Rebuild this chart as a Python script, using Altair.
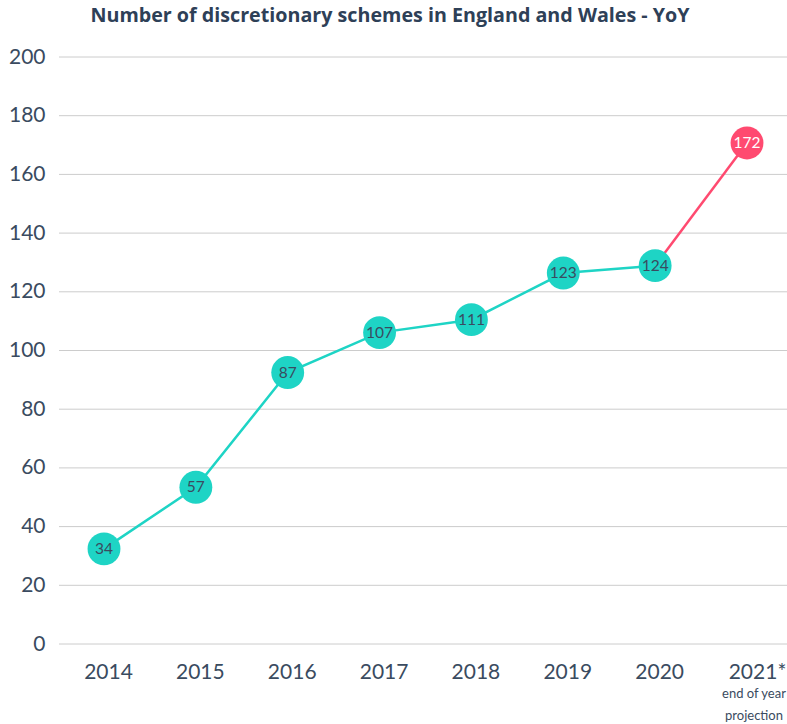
import altair as alt
import pandas as pd

years = ["2014", "2015", "2016", "2017", "2018", "2019", "2020", "2021*"]
plotted = [32.4, 53.4, 92.5, 106.1, 110.5, 126.4, 128.9, 170.7]
labels = ["34", "57", "87", "107", "111", "123", "124", "172"]
kind = ["actual"] * 7 + ["projection"]
y_ticks = [0, 20, 40, 60, 80, 100, 120, 140, 160, 180, 200]
note_year = ["2021*"]
note_text = ["end of year\nprojection"]

df = pd.DataFrame({"year": years, "value": plotted, "label": labels, "kind": kind})
df_actual = df.iloc[:7]
df_proj = df.iloc[6:8]
df_note = pd.DataFrame({"year": note_year, "text": note_text})
df_grid = pd.DataFrame({"value": y_ticks})

W, H = 728, 587
TEAL = "#1ed4c5"
PINK = "#ff4a70"
TXT = "#3a4b60"

x = alt.X("year:N", sort=years, title=None,
          scale=alt.Scale(type="point", domain=years, range=[45, 688], padding=0),
          axis=alt.Axis(labelAngle=0, labelFontSize=21, labelColor=TXT, labelFont="Lato",
                        ticks=False, domain=False, labelPadding=17, grid=False,
                        labelOffset={"condition": {"test": "datum.value == '2021*'", "value": 10}, "value": 4}))
y = alt.Y("value:Q", title=None,
          scale=alt.Scale(domain=[0, 200], nice=False, zero=True),
          axis=alt.Axis(values=y_ticks, labelFontSize=21, labelColor=TXT,
                        labelFont="Lato", ticks=False, domain=False, labelPadding=14, grid=False))

grid = alt.Chart(df_grid).mark_rule(color="#cccccc", strokeWidth=1).encode(
    y=alt.Y("value:Q", scale=alt.Scale(domain=[0, 200], nice=False)), x=alt.value(0), x2=alt.value(W))
line_a = alt.Chart(df_actual).mark_line(color=TEAL, strokeWidth=2.5).encode(x=x, y=y)
line_p = alt.Chart(df_proj).mark_line(color=PINK, strokeWidth=2.5).encode(x=x, y=y)
pts = alt.Chart(df).mark_circle(size=1080, opacity=1).encode(
    x=x, y=y,
    color=alt.Color("kind:N", scale=alt.Scale(domain=["actual", "projection"], range=[TEAL, PINK]), legend=None))
txt = alt.Chart(df).mark_text(fontSize=15.5, font="Lato", baseline="middle", align="center").encode(
    x=x, y=y, text="label:N",
    color=alt.Color("kind:N", scale=alt.Scale(domain=["actual", "projection"], range=[TXT, "#ffffff"]), legend=None))
note = alt.Chart(df_note).mark_text(fontSize=13, font="Lato", color=TXT, baseline="middle",
                                    lineBreak="\n", lineHeight=22, dx=7).encode(
    x=x, y=alt.value(H + 50), text="text:N")

chart = alt.layer(grid, line_a, line_p, pts, txt, note).resolve_scale(color="independent").properties(
    width=W, height=H,
    title=alt.TitleParams("Number of discretionary schemes in England and Wales - YoY",
                          fontSize=19.7, font="Open Sans", fontWeight="bold", color="#2e4057",
                          anchor="middle", dx=-33, offset=20),
    autosize=alt.AutoSizeParams(type="none"),
    padding={"left": 59, "top": 57, "right": 0, "bottom": 80},
).configure_view(stroke=None)

chart.save("out.html", embed_options={"renderer": "svg", "actions": False})
